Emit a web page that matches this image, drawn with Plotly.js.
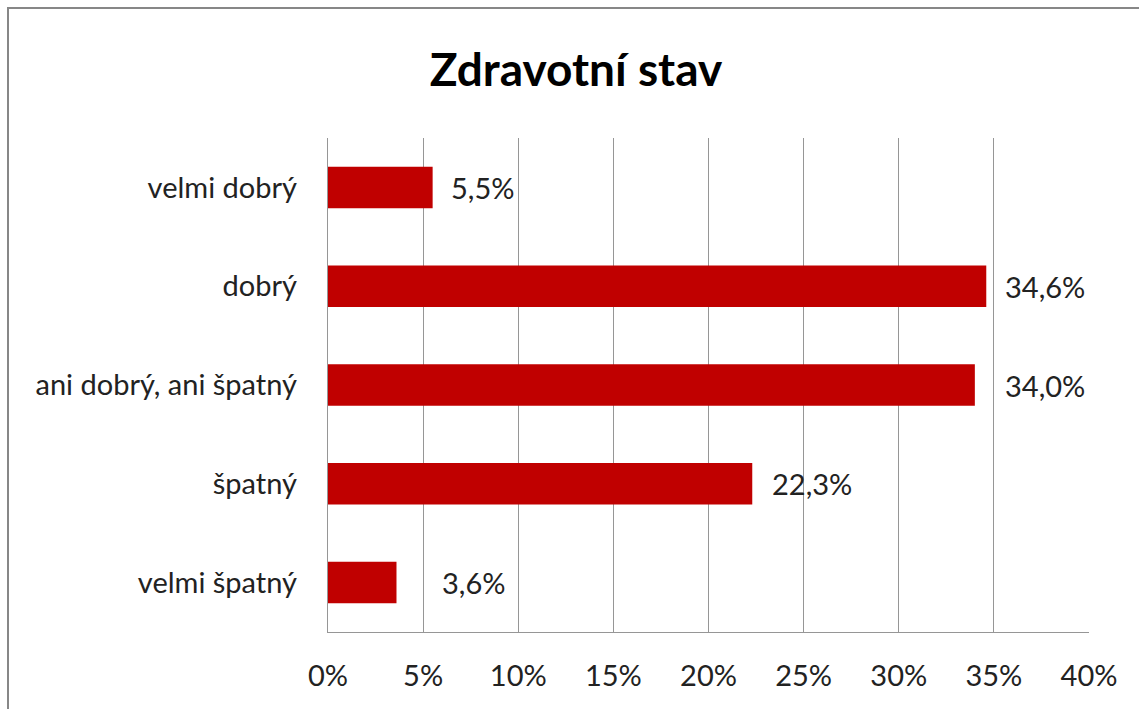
<!DOCTYPE html>
<html><head><meta charset="utf-8">
<script src="https://cdn.plot.ly/plotly-3.0.1.min.js"></script>
<style>
html,body{margin:0;padding:0;background:#fff;overflow:hidden;}
#chart{position:absolute;left:0;top:0;width:1139px;height:709px;}
#frame{position:absolute;left:7px;top:7px;width:1200px;height:800px;border:2px solid #878787;pointer-events:none;}
</style></head>
<body>
<div id="chart"></div>
<div id="frame"></div>
<script>
const categories = ["velmi dobrý", "dobrý", "ani dobrý, ani špatný", "špatný", "velmi špatný"];
const values = [5.5, 34.6, 34.0, 22.3, 3.6];
const labels = ["5,5%", "34,6%", "34,0%", "22,3%", "3,6%"];
const tickVals = [0, 5, 10, 15, 20, 25, 30, 35, 40];
const tickText = ["0%", "5%", "10%", "15%", "20%", "25%", "30%", "35%", "40%"];

// label offsets (px) from bar ends, as placed in the original chart
const labelShift = [16, 17, 28, 18, 44];

const FONT = "Lato, 'Open Sans', sans-serif";
const trace = {
  type: "bar", orientation: "h",
  y: categories, x: values,
  marker: {color: "#C00000"},
  hoverinfo: "none"
};
const annotations = categories.map((c, i) => ({
  x: values[i], y: c, xref: "x", yref: "y",
  text: labels[i], showarrow: false, xanchor: "left", yanchor: "middle",
  xshift: labelShift[i], font: {family: FONT, size: 29, color: "#222"}
}));
const layout = {
  width: 1139, height: 709,
  margin: {l: 328, r: 50, t: 138, b: 77, pad: 0},
  paper_bgcolor: "#fff", plot_bgcolor: "#fff",
  bargap: 0.58,
  showlegend: false,
  title: {text: "<b>Zdravotní stav</b>", x: 576/1139, xref: "container", xanchor: "center",
          y: 1 - 70/709, yref: "container", yanchor: "middle",
          font: {family: FONT, size: 46, color: "#000"}},
  xaxis: {range: [0, 40], tickvals: tickVals, ticktext: tickText,
          showgrid: true, gridcolor: "#969696", gridwidth: 1.2,
          showline: true, linecolor: "#969696", linewidth: 1.2,
          zeroline: false, ticks: "", ticklabelstandoff: 18,
          tickfont: {family: FONT, size: 29, color: "#222"}, fixedrange: true},
  yaxis: {categoryorder: "array", categoryarray: categories.slice().reverse(),
          showgrid: false, showline: true, linecolor: "#969696", linewidth: 1.2,
          zeroline: false, ticks: "", ticklabelstandoff: 24,
          tickfont: {family: FONT, size: 29, color: "#222"}, fixedrange: true},
  annotations: annotations
};
Plotly.newPlot("chart", [trace], layout, {displayModeBar: false, staticPlot: true});
</script>
</body></html>
